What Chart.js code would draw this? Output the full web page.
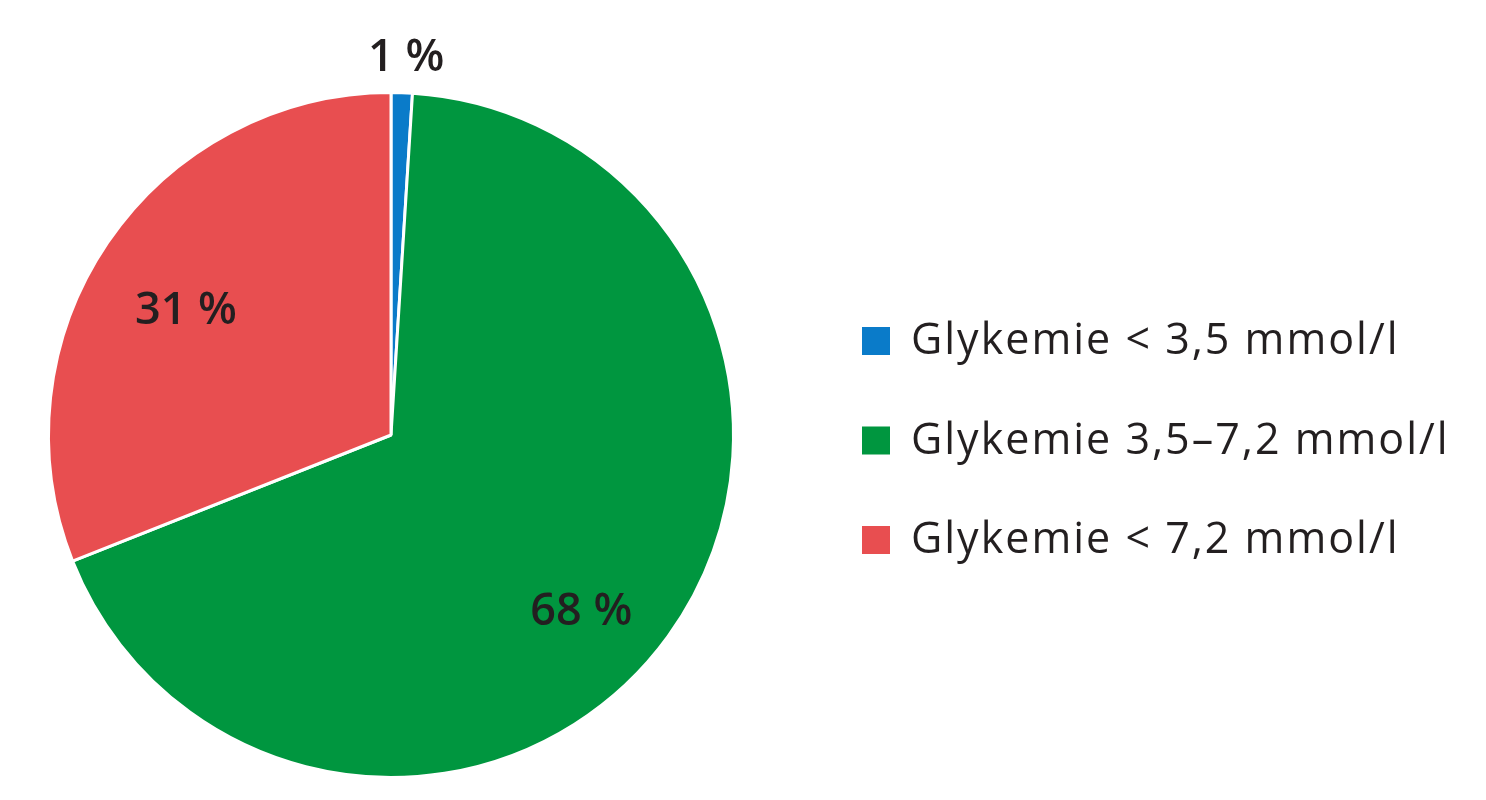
<!DOCTYPE html>
<html lang="cs">
<head>
  <meta charset="UTF-8">
  <title>Glykemie</title>
  <script src="https://cdn.jsdelivr.net/npm/chart.js"></script>
  <style>
    html, body { margin: 0; padding: 0; background: #fff; }
    #wrap { width: 1486px; height: 800px; position: relative; }
  </style>
</head>
<body>
  <div id="wrap"><canvas id="pie"></canvas></div>
<script>
// data
const categories = ['Glykemie < 3,5 mmol/l', 'Glykemie 3,5\u20137,2 mmol/l', 'Glykemie < 7,2 mmol/l'];
const shares = [1, 68, 31];
const sliceColors = ['#0a7bc9', '#00963f', '#e84e50'];

// where each percentage label sits: radius factor and angle shift (deg)
const labelPlace = [
  { r: 1.10, da: 0.5 },
  { r: 0.76, da: 7 },
  { r: 0.70, da: -3 }
];

const pctLabels = {
  id: 'pctLabels',
  afterDatasetsDraw(chart) {
    const ctx = chart.ctx;
    const arcs = chart.getDatasetMeta(0).data;
    ctx.save();
    ctx.font = '600 45px "Open Sans", sans-serif';
    ctx.fillStyle = '#231f20';
    ctx.textAlign = 'center';
    ctx.textBaseline = 'middle';
    arcs.forEach((arc, i) => {
      const p = labelPlace[i];
      const mid = (arc.startAngle + arc.endAngle) / 2 + p.da * Math.PI / 180;
      const r = arc.outerRadius * p.r;
      ctx.fillText(shares[i] + ' %', arc.x + Math.cos(mid) * r, arc.y + Math.sin(mid) * r);
    });
    ctx.restore();
  }
};

const sideLegend = {
  id: 'sideLegend',
  afterDraw(chart) {
    const ctx = chart.ctx;
    const x0 = 862, y0 = 341, step = 99.5, box = 28;
    ctx.save();
    ctx.font = '43px "Open Sans", sans-serif';
    ctx.letterSpacing = '2px';
    ctx.textBaseline = 'middle';
    chart.data.labels.forEach((lab, i) => {
      const y = y0 + i * step;
      ctx.fillStyle = sliceColors[i];
      ctx.fillRect(x0, y - box / 2, box, box);
      ctx.fillStyle = '#231f20';
      ctx.fillText(lab, x0 + 49, y + 1);
    });
    ctx.restore();
  }
};

new Chart(document.getElementById('pie'), {
  type: 'pie',
  data: {
    labels: categories,
    datasets: [{
      data: shares,
      backgroundColor: sliceColors,
      borderColor: '#ffffff',
      borderWidth: 3,
      hoverOffset: 0
    }]
  },
  options: {
    responsive: true,
    maintainAspectRatio: false,
    animation: false,
    layout: { padding: { left: 47, right: 751, top: 91, bottom: 21 } },
    plugins: {
      legend: { display: false },
      tooltip: { enabled: false }
    }
  },
  plugins: [pctLabels, sideLegend]
});
</script>
</body>
</html>
